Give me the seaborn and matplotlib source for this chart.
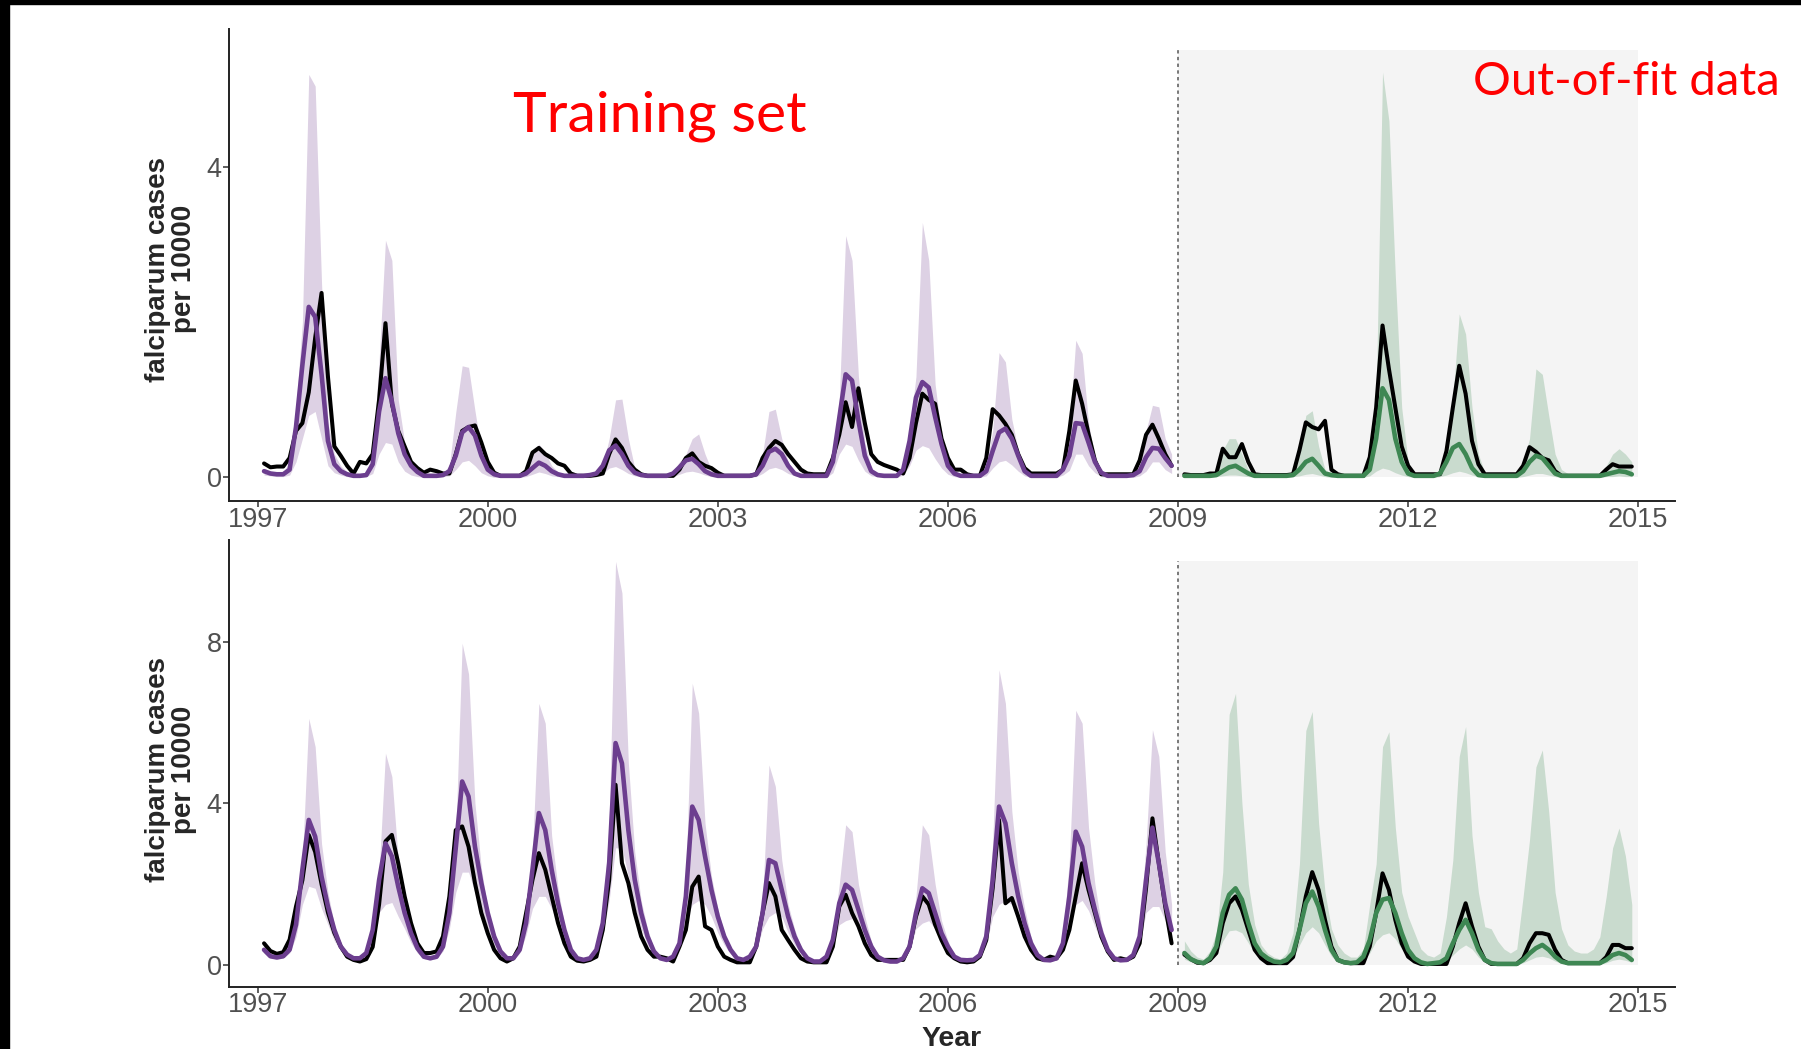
import numpy as np
import pandas as pd
import seaborn as sns
import matplotlib.pyplot as plt
from matplotlib.patches import Rectangle
from matplotlib import font_manager

# months counted from Jan 1997 (1 = Feb 1997). training: Feb 1997 - Dec 2008, out-of-fit: Feb 2009 - Dec 2014
train_months = np.arange(1, 144)
test_months = np.arange(145, 216)

# ---------------- top panel ----------------
top_obs_train = [
    0.18, 0.13, 0.14, 0.14, 0.25, 0.60, 0.70, 1.10, 1.80, 2.38, 1.30, 0.40,
    0.28, 0.15, 0.05, 0.20, 0.18, 0.30, 1.00, 1.99, 0.95, 0.60, 0.40, 0.20,
    0.12, 0.06, 0.10, 0.08, 0.05, 0.05, 0.30, 0.60, 0.65, 0.67, 0.45, 0.20,
    0.06, 0.02, 0.02, 0.02, 0.02, 0.08, 0.32, 0.38, 0.30, 0.25, 0.18, 0.15,
    0.05, 0.02, 0.02, 0.02, 0.03, 0.05, 0.30, 0.49, 0.38, 0.20, 0.10, 0.04,
    0.02, 0.02, 0.02, 0.02, 0.02, 0.10, 0.25, 0.31, 0.20, 0.15, 0.12, 0.06,
    0.02, 0.02, 0.02, 0.02, 0.02, 0.04, 0.25, 0.38, 0.47, 0.42, 0.30, 0.20,
    0.10, 0.05, 0.04, 0.04, 0.04, 0.25, 0.55, 0.97, 0.65, 1.15, 0.70, 0.30,
    0.20, 0.16, 0.13, 0.10, 0.05, 0.25, 0.70, 1.08, 1.00, 0.95, 0.50, 0.25,
    0.10, 0.10, 0.04, 0.02, 0.02, 0.25, 0.88, 0.80, 0.69, 0.55, 0.30, 0.12,
    0.05, 0.05, 0.05, 0.05, 0.05, 0.10, 0.60, 1.25, 0.95, 0.56, 0.22, 0.04,
    0.04, 0.04, 0.04, 0.04, 0.04, 0.22, 0.55, 0.68, 0.50, 0.30, 0.15,
]
top_fit_train = [
    0.08, 0.05, 0.04, 0.04, 0.10, 0.65, 1.45, 2.20, 2.07, 1.33, 0.47, 0.17,
    0.08, 0.04, 0.02, 0.02, 0.03, 0.17, 0.85, 1.28, 0.98, 0.57, 0.30, 0.15,
    0.07, 0.02, 0.02, 0.02, 0.03, 0.08, 0.28, 0.58, 0.65, 0.54, 0.28, 0.10,
    0.04, 0.02, 0.02, 0.02, 0.02, 0.05, 0.12, 0.19, 0.15, 0.08, 0.04, 0.02,
    0.02, 0.02, 0.02, 0.03, 0.05, 0.15, 0.35, 0.41, 0.30, 0.15, 0.06, 0.03,
    0.02, 0.02, 0.02, 0.02, 0.05, 0.13, 0.22, 0.24, 0.17, 0.08, 0.04, 0.02,
    0.02, 0.02, 0.02, 0.02, 0.02, 0.04, 0.15, 0.33, 0.37, 0.30, 0.15, 0.05,
    0.02, 0.02, 0.02, 0.02, 0.02, 0.20, 0.77, 1.33, 1.25, 0.73, 0.28, 0.08,
    0.03, 0.02, 0.02, 0.02, 0.10, 0.47, 1.03, 1.23, 1.16, 0.78, 0.43, 0.15,
    0.05, 0.02, 0.02, 0.02, 0.02, 0.08, 0.34, 0.58, 0.63, 0.50, 0.28, 0.08,
    0.02, 0.02, 0.02, 0.02, 0.02, 0.10, 0.28, 0.70, 0.69, 0.45, 0.20, 0.06,
    0.02, 0.02, 0.02, 0.02, 0.03, 0.08, 0.26, 0.38, 0.37, 0.25, 0.15,
]
top_hi_train = [
    0.12, 0.08, 0.07, 0.07, 0.20, 0.90, 2.00, 5.20, 5.05, 2.50, 0.70, 0.30,
    0.15, 0.07, 0.04, 0.04, 0.06, 0.30, 1.50, 3.06, 2.80, 1.00, 0.45, 0.20,
    0.10, 0.04, 0.04, 0.04, 0.06, 0.15, 0.84, 1.44, 1.42, 0.86, 0.35, 0.12,
    0.05, 0.04, 0.04, 0.04, 0.04, 0.10, 0.30, 0.43, 0.32, 0.15, 0.07, 0.04,
    0.04, 0.04, 0.04, 0.05, 0.08, 0.15, 0.50, 1.00, 1.01, 0.50, 0.12, 0.05,
    0.04, 0.04, 0.04, 0.04, 0.08, 0.20, 0.30, 0.50, 0.56, 0.30, 0.10, 0.04,
    0.04, 0.04, 0.04, 0.04, 0.04, 0.08, 0.30, 0.85, 0.88, 0.50, 0.20, 0.08,
    0.04, 0.04, 0.04, 0.04, 0.05, 0.35, 1.00, 3.12, 2.80, 1.30, 0.45, 0.12,
    0.05, 0.04, 0.04, 0.04, 0.15, 0.60, 1.30, 3.29, 2.80, 1.20, 0.55, 0.20,
    0.08, 0.04, 0.04, 0.04, 0.05, 0.15, 0.60, 1.61, 1.49, 0.75, 0.35, 0.10,
    0.04, 0.04, 0.04, 0.04, 0.04, 0.15, 0.60, 1.77, 1.60, 0.70, 0.25, 0.08,
    0.04, 0.04, 0.04, 0.04, 0.05, 0.15, 0.60, 0.93, 0.91, 0.50, 0.30,
]
top_lo_train = [
    0.03, 0.02, 0.01, 0.01, 0.03, 0.20, 0.50, 0.80, 0.85, 0.50, 0.15, 0.06,
    0.03, 0.01, 0.00, 0.00, 0.01, 0.05, 0.30, 0.45, 0.43, 0.20, 0.08, 0.03,
    0.01, 0.00, 0.00, 0.00, 0.01, 0.02, 0.10, 0.20, 0.22, 0.15, 0.06, 0.02,
    0.00, 0.00, 0.00, 0.00, 0.00, 0.01, 0.04, 0.07, 0.05, 0.02, 0.01, 0.00,
    0.00, 0.00, 0.00, 0.01, 0.02, 0.05, 0.12, 0.14, 0.10, 0.05, 0.02, 0.01,
    0.00, 0.00, 0.00, 0.00, 0.01, 0.04, 0.07, 0.08, 0.06, 0.03, 0.01, 0.00,
    0.00, 0.00, 0.00, 0.00, 0.00, 0.01, 0.05, 0.11, 0.13, 0.10, 0.05, 0.02,
    0.00, 0.00, 0.00, 0.00, 0.00, 0.06, 0.30, 0.43, 0.40, 0.22, 0.08, 0.02,
    0.01, 0.00, 0.00, 0.00, 0.03, 0.15, 0.35, 0.41, 0.38, 0.24, 0.12, 0.04,
    0.01, 0.00, 0.00, 0.00, 0.00, 0.02, 0.12, 0.20, 0.22, 0.16, 0.08, 0.02,
    0.00, 0.00, 0.00, 0.00, 0.00, 0.03, 0.09, 0.30, 0.30, 0.15, 0.06, 0.01,
    0.00, 0.00, 0.00, 0.00, 0.00, 0.02, 0.08, 0.20, 0.20, 0.10, 0.05,
]
top_obs_test = [
    0.04, 0.03, 0.03, 0.03, 0.05, 0.05, 0.37, 0.26, 0.26, 0.43, 0.20, 0.04,
    0.03, 0.03, 0.03, 0.03, 0.03, 0.04, 0.35, 0.71, 0.65, 0.62, 0.73, 0.10,
    0.04, 0.02, 0.02, 0.02, 0.02, 0.26, 0.90, 1.96, 1.40, 0.90, 0.40, 0.15,
    0.04, 0.04, 0.04, 0.04, 0.04, 0.34, 0.90, 1.44, 1.08, 0.47, 0.17, 0.04,
    0.04, 0.04, 0.04, 0.04, 0.04, 0.15, 0.39, 0.33, 0.25, 0.22, 0.08, 0.02,
    0.02, 0.02, 0.02, 0.02, 0.02, 0.02, 0.10, 0.17, 0.14, 0.14, 0.14,
]
top_fit_test = [
    0.02, 0.02, 0.02, 0.02, 0.02, 0.03, 0.08, 0.13, 0.15, 0.10, 0.05, 0.02,
    0.02, 0.02, 0.02, 0.02, 0.02, 0.03, 0.10, 0.20, 0.24, 0.15, 0.05, 0.03,
    0.02, 0.02, 0.02, 0.02, 0.02, 0.10, 0.50, 1.15, 1.00, 0.50, 0.20, 0.05,
    0.02, 0.02, 0.02, 0.02, 0.05, 0.20, 0.38, 0.43, 0.30, 0.12, 0.03, 0.02,
    0.02, 0.02, 0.02, 0.02, 0.02, 0.08, 0.20, 0.28, 0.25, 0.15, 0.05, 0.02,
    0.02, 0.02, 0.02, 0.02, 0.02, 0.02, 0.04, 0.06, 0.08, 0.07, 0.04,
]
top_hi_test = [
    0.05, 0.04, 0.04, 0.04, 0.05, 0.10, 0.35, 0.50, 0.50, 0.30, 0.10, 0.05,
    0.04, 0.04, 0.04, 0.04, 0.04, 0.08, 0.30, 0.80, 0.86, 0.40, 0.10, 0.05,
    0.04, 0.04, 0.04, 0.04, 0.05, 0.30, 1.00, 5.23, 4.60, 2.60, 0.90, 0.20,
    0.05, 0.04, 0.04, 0.04, 0.10, 0.40, 1.00, 2.11, 1.85, 0.90, 0.30, 0.06,
    0.04, 0.04, 0.04, 0.04, 0.05, 0.20, 0.50, 1.40, 1.33, 0.80, 0.30, 0.10,
    0.05, 0.04, 0.04, 0.04, 0.04, 0.05, 0.15, 0.30, 0.37, 0.30, 0.20,
]
top_lo_test = [
    0.00, 0.00, 0.00, 0.00, 0.00, 0.01, 0.02, 0.03, 0.03, 0.02, 0.01, 0.00,
    0.00, 0.00, 0.00, 0.00, 0.00, 0.01, 0.02, 0.04, 0.05, 0.03, 0.01, 0.00,
    0.00, 0.00, 0.00, 0.00, 0.00, 0.02, 0.08, 0.12, 0.10, 0.06, 0.03, 0.01,
    0.00, 0.00, 0.00, 0.00, 0.01, 0.03, 0.06, 0.08, 0.06, 0.03, 0.01, 0.00,
    0.00, 0.00, 0.00, 0.00, 0.00, 0.01, 0.03, 0.05, 0.05, 0.03, 0.01, 0.00,
    0.00, 0.00, 0.00, 0.00, 0.00, 0.00, 0.01, 0.01, 0.02, 0.01, 0.01,
]

# ---------------- bottom panel ----------------
bot_obs_train = [
    0.54, 0.35, 0.28, 0.32, 0.63, 1.45, 2.10, 3.22, 2.80, 2.00, 1.30, 0.80,
    0.46, 0.21, 0.13, 0.09, 0.15, 0.45, 1.50, 3.06, 3.22, 2.52, 1.70, 1.04,
    0.54, 0.30, 0.30, 0.34, 0.71, 1.70, 3.34, 3.43, 2.93, 2.03, 1.29, 0.79,
    0.38, 0.17, 0.09, 0.17, 0.46, 1.29, 2.11, 2.77, 2.36, 1.70, 1.04, 0.54,
    0.21, 0.11, 0.09, 0.13, 0.21, 0.87, 2.11, 4.46, 2.52, 2.03, 1.29, 0.71,
    0.38, 0.21, 0.21, 0.17, 0.09, 0.46, 0.87, 1.94, 2.19, 0.96, 0.87, 0.46,
    0.21, 0.13, 0.07, 0.07, 0.07, 0.46, 1.29, 2.03, 1.70, 0.87, 0.62, 0.38,
    0.17, 0.09, 0.07, 0.07, 0.07, 0.46, 1.45, 1.74, 1.29, 0.96, 0.54, 0.25,
    0.13, 0.13, 0.13, 0.13, 0.13, 0.46, 1.20, 1.70, 1.50, 1.00, 0.62, 0.30,
    0.17, 0.09, 0.07, 0.09, 0.21, 0.62, 1.90, 3.59, 1.53, 1.66, 1.20, 0.71,
    0.38, 0.17, 0.13, 0.21, 0.17, 0.38, 0.87, 1.70, 2.52, 1.86, 1.29, 0.71,
    0.34, 0.13, 0.17, 0.13, 0.21, 0.54, 1.90, 3.63, 2.52, 1.45, 0.54,
]
bot_fit_train = [
    0.38, 0.22, 0.19, 0.22, 0.38, 1.00, 2.36, 3.59, 3.18, 2.19, 1.45, 0.87,
    0.46, 0.26, 0.17, 0.17, 0.30, 0.87, 2.10, 3.01, 2.69, 1.94, 1.29, 0.79,
    0.42, 0.21, 0.17, 0.21, 0.46, 1.29, 2.90, 4.54, 4.17, 2.93, 2.03, 1.29,
    0.71, 0.34, 0.17, 0.17, 0.38, 1.04, 2.36, 3.76, 3.34, 2.36, 1.53, 0.87,
    0.38, 0.17, 0.13, 0.17, 0.38, 1.04, 2.52, 5.49, 4.99, 3.34, 2.11, 1.29,
    0.71, 0.34, 0.17, 0.13, 0.21, 0.54, 1.70, 3.92, 3.59, 2.69, 1.86, 1.20,
    0.71, 0.38, 0.17, 0.13, 0.21, 0.46, 1.29, 2.60, 2.52, 1.86, 1.20, 0.71,
    0.38, 0.17, 0.09, 0.09, 0.21, 0.63, 1.53, 1.99, 1.86, 1.37, 0.87, 0.46,
    0.21, 0.12, 0.09, 0.09, 0.17, 0.46, 1.29, 1.90, 1.78, 1.29, 0.79, 0.46,
    0.21, 0.13, 0.12, 0.13, 0.25, 0.71, 2.11, 3.92, 3.51, 2.52, 1.70, 1.04,
    0.54, 0.25, 0.13, 0.12, 0.17, 0.54, 1.70, 3.30, 2.93, 2.03, 1.37, 0.79,
    0.38, 0.17, 0.12, 0.13, 0.25, 0.71, 2.11, 3.40, 2.52, 1.53, 0.87,
]
bot_hi_train = [
    0.50, 0.30, 0.25, 0.30, 0.55, 1.30, 2.60, 6.10, 5.40, 3.00, 1.80, 1.00,
    0.55, 0.30, 0.20, 0.20, 0.40, 1.00, 2.30, 5.24, 4.66, 2.60, 1.50, 0.90,
    0.50, 0.25, 0.20, 0.25, 0.60, 1.50, 3.20, 7.96, 7.20, 4.00, 2.40, 1.40,
    0.80, 0.40, 0.20, 0.20, 0.50, 1.20, 2.80, 6.47, 5.98, 3.20, 1.90, 1.00,
    0.45, 0.20, 0.15, 0.20, 0.45, 1.30, 3.50, 9.98, 9.20, 5.00, 2.80, 1.60,
    0.90, 0.40, 0.20, 0.15, 0.25, 0.70, 2.20, 6.97, 6.23, 3.50, 2.20, 1.40,
    0.80, 0.45, 0.20, 0.15, 0.25, 0.60, 1.60, 4.95, 4.42, 2.60, 1.50, 0.90,
    0.45, 0.20, 0.12, 0.12, 0.25, 0.80, 2.00, 3.47, 3.30, 2.00, 1.20, 0.60,
    0.25, 0.15, 0.12, 0.12, 0.20, 0.60, 1.70, 3.47, 3.22, 2.00, 1.10, 0.60,
    0.25, 0.15, 0.15, 0.15, 0.30, 0.90, 3.00, 7.30, 6.47, 3.80, 2.30, 1.40,
    0.70, 0.30, 0.15, 0.15, 0.20, 0.70, 2.60, 6.30, 5.98, 3.40, 2.00, 1.00,
    0.45, 0.20, 0.15, 0.15, 0.30, 0.90, 3.00, 5.82, 5.16, 2.80, 1.50,
]
bot_lo_train = [
    0.30, 0.18, 0.15, 0.18, 0.30, 0.70, 1.50, 1.95, 1.90, 1.40, 1.00, 0.60,
    0.35, 0.20, 0.13, 0.13, 0.22, 0.60, 1.30, 1.50, 1.55, 1.20, 0.90, 0.55,
    0.30, 0.16, 0.13, 0.16, 0.35, 0.90, 1.80, 2.30, 2.30, 1.80, 1.30, 0.90,
    0.50, 0.25, 0.13, 0.13, 0.30, 0.75, 1.40, 1.70, 1.70, 1.40, 1.00, 0.60,
    0.28, 0.13, 0.10, 0.13, 0.30, 0.75, 1.60, 2.90, 2.90, 2.20, 1.40, 0.90,
    0.50, 0.25, 0.13, 0.10, 0.16, 0.40, 1.10, 1.50, 1.60, 1.50, 1.20, 0.80,
    0.50, 0.28, 0.13, 0.10, 0.16, 0.35, 0.90, 1.20, 1.30, 1.20, 0.80, 0.50,
    0.28, 0.13, 0.07, 0.07, 0.16, 0.45, 1.00, 1.10, 1.15, 0.95, 0.60, 0.33,
    0.16, 0.09, 0.07, 0.07, 0.13, 0.35, 0.90, 1.04, 1.10, 0.90, 0.55, 0.33,
    0.16, 0.10, 0.09, 0.10, 0.18, 0.50, 1.20, 1.50, 1.60, 1.50, 1.10, 0.70,
    0.38, 0.18, 0.10, 0.09, 0.13, 0.38, 1.10, 1.50, 1.60, 1.35, 0.95, 0.55,
    0.28, 0.13, 0.09, 0.10, 0.18, 0.50, 1.30, 1.45, 1.45, 1.10, 0.62,
]
bot_obs_test = [
    0.26, 0.15, 0.06, 0.05, 0.13, 0.30, 1.04, 1.53, 1.70, 1.37, 0.87, 0.38,
    0.17, 0.05, 0.05, 0.05, 0.05, 0.20, 0.87, 1.70, 2.30, 1.86, 1.12, 0.46,
    0.13, 0.07, 0.05, 0.05, 0.05, 0.46, 1.29, 2.27, 1.86, 1.12, 0.54, 0.21,
    0.09, 0.03, 0.03, 0.03, 0.03, 0.03, 0.46, 1.04, 1.53, 0.96, 0.46, 0.13,
    0.03, 0.03, 0.03, 0.03, 0.03, 0.17, 0.54, 0.79, 0.79, 0.75, 0.38, 0.13,
    0.05, 0.05, 0.05, 0.05, 0.05, 0.05, 0.20, 0.50, 0.50, 0.42, 0.42,
]
bot_fit_test = [
    0.30, 0.15, 0.08, 0.05, 0.17, 0.46, 1.29, 1.74, 1.90, 1.62, 1.04, 0.54,
    0.29, 0.17, 0.09, 0.07, 0.13, 0.30, 0.87, 1.53, 1.82, 1.45, 0.87, 0.38,
    0.13, 0.07, 0.05, 0.07, 0.21, 0.62, 1.29, 1.62, 1.66, 1.29, 0.79, 0.38,
    0.17, 0.07, 0.03, 0.05, 0.07, 0.17, 0.54, 0.87, 1.12, 0.79, 0.38, 0.13,
    0.05, 0.03, 0.03, 0.03, 0.03, 0.13, 0.29, 0.42, 0.50, 0.38, 0.21, 0.09,
    0.05, 0.05, 0.05, 0.05, 0.05, 0.05, 0.13, 0.25, 0.30, 0.25, 0.13,
]
bot_hi_test = [
    0.60, 0.35, 0.20, 0.15, 0.35, 0.80, 2.30, 6.20, 6.72, 4.00, 2.00, 1.00,
    0.50, 0.30, 0.20, 0.15, 0.30, 0.80, 2.50, 5.80, 6.27, 3.50, 1.80, 0.90,
    0.50, 0.30, 0.20, 0.20, 0.40, 1.50, 2.50, 5.40, 5.77, 3.40, 1.80, 1.20,
    0.80, 0.40, 0.25, 0.20, 0.30, 1.20, 2.60, 5.16, 5.90, 3.20, 1.80, 0.95,
    0.90, 0.60, 0.40, 0.30, 0.40, 1.70, 3.10, 4.90, 5.32, 3.80, 1.80, 0.90,
    0.50, 0.35, 0.30, 0.30, 0.40, 0.70, 1.70, 2.90, 3.39, 2.70, 1.50,
]
bot_lo_test = [
    0.15, 0.08, 0.04, 0.03, 0.08, 0.25, 0.60, 0.85, 0.87, 0.80, 0.55, 0.30,
    0.15, 0.08, 0.05, 0.04, 0.07, 0.17, 0.50, 0.80, 0.95, 0.80, 0.50, 0.22,
    0.07, 0.04, 0.03, 0.04, 0.10, 0.30, 0.60, 0.75, 0.80, 0.65, 0.40, 0.20,
    0.09, 0.04, 0.02, 0.03, 0.04, 0.09, 0.25, 0.40, 0.50, 0.40, 0.20, 0.07,
    0.03, 0.02, 0.02, 0.02, 0.02, 0.06, 0.13, 0.20, 0.22, 0.18, 0.10, 0.05,
    0.03, 0.03, 0.03, 0.03, 0.03, 0.03, 0.06, 0.12, 0.15, 0.12, 0.07,
]

year_ticks = [1997, 2000, 2003, 2006, 2009, 2012, 2015]
top_yticks = [0, 4]
bot_yticks = [0, 4, 8]
split_year = 2009
end_year = 2015
shade_top = 5.52   # height of grey out-of-fit box, top panel
shade_bot = 10.0   # bottom panel

# colours
purple = '#6c3e8f'
purple_band = '#ddd1e4'
green = '#3e8753'
green_band = '#c9dbce'
grey_box = '#f4f4f4'

sns.set_style('ticks')
names = {f.name for f in font_manager.fontManager.ttflist}
narrow = 'Liberation Sans Narrow' if 'Liberation Sans Narrow' in names else 'Liberation Sans'
tick_size = 23 if narrow == 'Liberation Sans Narrow' else 19.5
plt.rcParams['font.family'] = [narrow, 'DejaVu Sans']

W, H = 1801, 1049
fig = plt.figure(figsize=(W / 100, H / 100), dpi=100)
ax_top = fig.add_axes([228.5 / W, 1 - 501.4 / H, (1675 - 228.5) / W, (501.4 - 28.7) / H])
ax_bot = fig.add_axes([228.5 / W, 1 - 986.6 / H, (1675 - 228.5) / W, (986.6 - 539.6) / H])


def draw_panel(ax, obs_tr, fit_tr, lo_tr, hi_tr, obs_te, fit_te, lo_te, hi_te, shade_h, ylim, yticks):
    t_tr = 1997 + train_months / 12
    t_te = 1997 + test_months / 12
    df_tr = pd.DataFrame({'year': t_tr, 'obs': obs_tr, 'fit': fit_tr, 'lo': lo_tr, 'hi': hi_tr})
    df_te = pd.DataFrame({'year': t_te, 'obs': obs_te, 'fit': fit_te, 'lo': lo_te, 'hi': hi_te})

    # grey out-of-fit box and the split line
    ax.fill_between([split_year, end_year], 0, shade_h, color=grey_box, lw=0, zorder=0)
    ax.vlines(split_year, 0, shade_h, colors='#555555', linestyles=(0, (2.2, 2.2)), lw=1.1, zorder=1)

    # uncertainty ribbons
    ax.fill_between(df_tr['year'], df_tr['lo'], df_tr['hi'], color=purple_band, lw=0, zorder=2)
    ax.fill_between(df_te['year'], df_te['lo'], df_te['hi'], color=green_band, lw=0, zorder=2)

    # observed and fitted
    sns.lineplot(data=df_tr, x='year', y='obs', color='black', lw=2.9, ax=ax, zorder=3)
    sns.lineplot(data=df_te, x='year', y='obs', color='black', lw=2.9, ax=ax, zorder=3)
    sns.lineplot(data=df_tr, x='year', y='fit', color=purple, lw=3.3, ax=ax, zorder=4)
    sns.lineplot(data=df_te, x='year', y='fit', color=green, lw=3.3, ax=ax, zorder=4)

    ax.set_xlim(1996.62, 2015.48)
    ax.set_ylim(*ylim)
    ax.set_xticks(year_ticks)
    ax.set_yticks(yticks)
    ax.set_xlabel('')
    ax.set_ylabel('')
    sns.despine(ax=ax)
    for s in ['left', 'bottom']:
        ax.spines[s].set_linewidth(1.4)
        ax.spines[s].set_color('#222222')
    ax.tick_params(axis='both', length=4, width=1.1, color='#333333',
                   labelsize=tick_size, labelcolor='#505050')
    ax.tick_params(axis='x', pad=0)
    ax.tick_params(axis='y', pad=1)


draw_panel(ax_top, top_obs_train, top_fit_train, top_lo_train, top_hi_train,
           top_obs_test, top_fit_test, top_lo_test, top_hi_test,
           shade_top, (-0.31, 5.79), top_yticks)
draw_panel(ax_bot, bot_obs_train, bot_fit_train, bot_lo_train, bot_hi_train,
           bot_obs_test, bot_fit_test, bot_lo_test, bot_hi_test,
           shade_bot, (-0.53, 10.52), bot_yticks)

# axis titles
ylab = 'falciparum cases\nper 10000'
fig.text(171 / W, 1 - 269 / H, ylab, rotation=90, ha='center', va='center', fontsize=20,
         fontweight='bold', family=['Liberation Sans', 'DejaVu Sans'], linespacing=1.0)
fig.text(171 / W, 1 - 770 / H, ylab, rotation=90, ha='center', va='center', fontsize=20,
         fontweight='bold', family=['Liberation Sans', 'DejaVu Sans'], linespacing=1.0)
fig.text(951.7 / W, 1 - 1046 / H, 'Year', ha='center', va='baseline', fontsize=20.5,
         fontweight='bold', family=['Liberation Sans', 'DejaVu Sans'])

# slide annotations
fig.text(513 / W, 1 - 131.7 / H, 'Training set', color='#ff0000', fontsize=41,
         family=['Lato', 'DejaVu Sans'], ha='left', va='baseline')
fig.text(1473 / W, 1 - 95 / H, 'Out-of-fit data', color='#ff0000', fontsize=34,
         family=['Lato', 'DejaVu Sans'], ha='left', va='baseline')

# black slide border strips (top and left)
fig.patches.append(Rectangle((0, 1 - 4 / H), 1, 4 / H, transform=fig.transFigure, color='black', zorder=10))
fig.patches.append(Rectangle((0, 0), 9 / W, 1, transform=fig.transFigure, color='black', zorder=10))

fig.savefig('out.png', dpi=100)
